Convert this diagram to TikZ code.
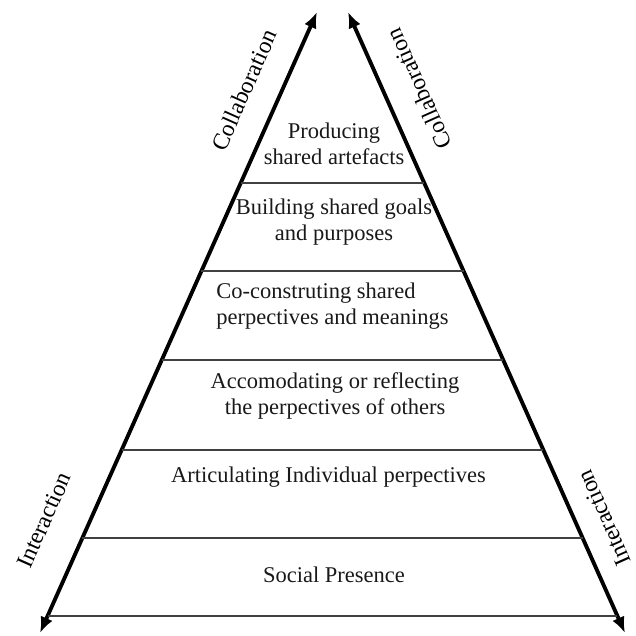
\documentclass[tikz,border=0pt]{standalone}
\usepackage{fontspec}
\setmainfont{Liberation Serif}
\usetikzlibrary{arrows.meta,calc}
\tikzset{
	side/.style={line width=2.2pt,{Latex[length=3.2mm,width=2.6mm]}-{Latex[length=3.2mm,width=2.6mm]}},
	layer/.style={line width=1pt,black!75},
	lbl/.style={font=\fontsize{12.8}{15}\selectfont,align=center,text=black!90},
	axis/.style={font=\fontsize{13.4}{15}\selectfont},
}

\begin{document}
\begin{tikzpicture}
			\useasboundingbox (0,0) rectangle (12.72,12.72);
			\coordinate (lb) at (0.80,0.06);
			\coordinate (lt) at (6.34,12.48);
			\coordinate (rt) at (6.96,12.48);
			\coordinate (rb) at (12.50,0.06);
			\draw[side] (lb) -- (lt);
			\draw[side] (rt) -- (rb);
			% layers of the pyramid
			\foreach \y [count=\i] in {0.40,1.96,3.72,5.52,7.30,9.06} {
				\coordinate (l\i) at ($(lb)!{(\y-0.06)/12.42}!(lt)$);
				\coordinate (r\i) at ($(rb)!{(\y-0.06)/12.42}!(rt)$);
				\draw[layer] (l\i) -- (r\i);
			}
			\node[lbl] (producing) at (6.68,9.84) {Producing\\shared artefacts};
			\node[lbl] (goals) at (6.68,8.28) {Building shared goals\\and purposes};
			\node[lbl,align=left] (meanings) at (6.65,6.60) {Co-construting shared\\perpectives and meanings};
			\node[lbl] (others) at (6.70,4.80) {Accomodating or reflecting\\the perpectives of others};
			\node[lbl] (individual) at (6.57,3.18) {Articulating Individual perpectives};
			\node[lbl] (social) at (6.68,1.22) {Social Presence};
			% side labels
			\node[axis,rotate=66] (collabL) at (4.88,10.92) {Collaboration};
			\node[axis,rotate=114] (collabR) at (8.38,10.94) {Collaboration};
			\node[axis,rotate=66] (interL) at (0.88,2.32) {Interaction};
			\node[axis,rotate=114] (interR) at (12.08,2.36) {Interaction};
		\end{tikzpicture}
\end{document}
